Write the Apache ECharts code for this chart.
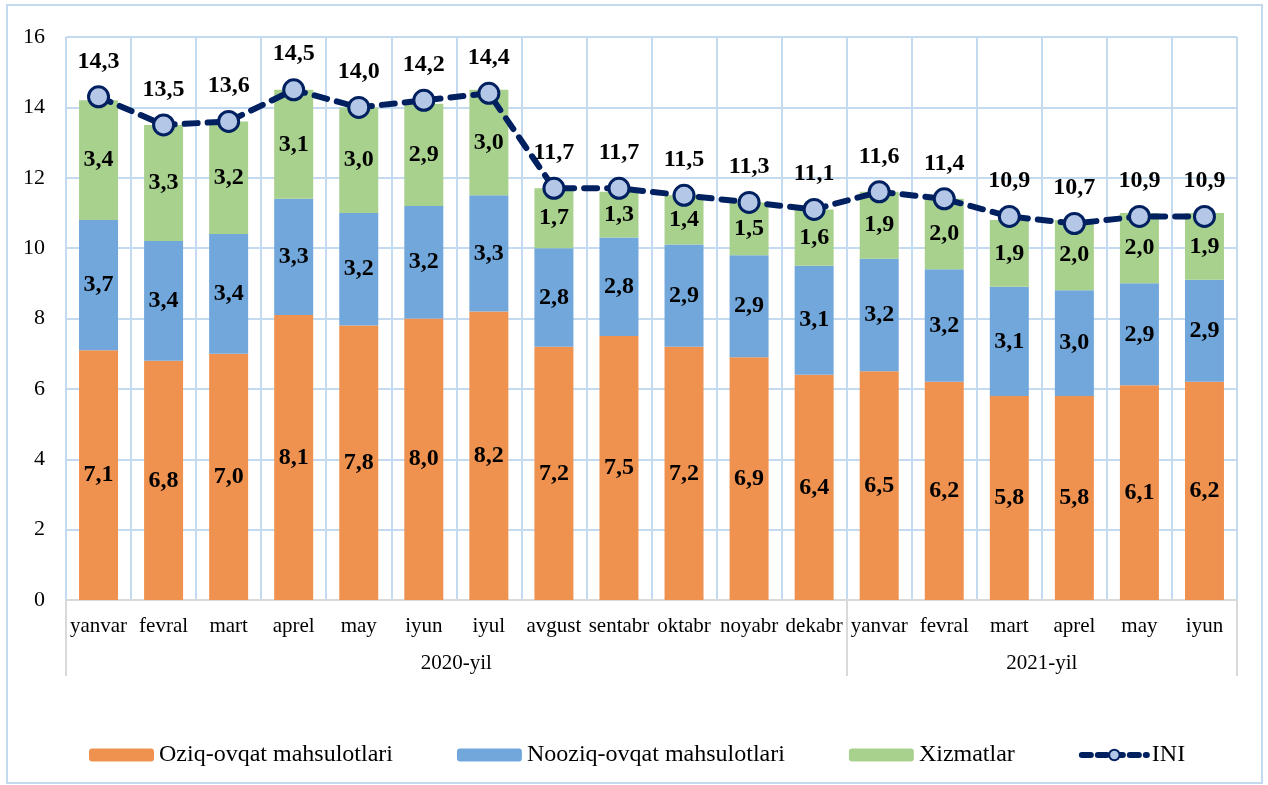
<!DOCTYPE html>
<html>
<head>
<meta charset="utf-8">
<title>INI</title>
<script src="https://cdn.jsdelivr.net/npm/echarts@6.0.0/dist/echarts.min.js"></script>
<style>
	html, body { margin: 0; padding: 0; background: #fff; }
	#chart { width: 1268px; height: 785px; }
</style>
</head>
<body>
<div id="chart"></div>
<script>
'use strict';

var months = ['yanvar', 'fevral', 'mart', 'aprel', 'may', 'iyun', 'iyul', 'avgust', 'sentabr', 'oktabr', 'noyabr', 'dekabr',
	'yanvar', 'fevral', 'mart', 'aprel', 'may', 'iyun'];
var years = ['2020-yil', '2021-yil'];
var yearCounts = [12, 6];
var food = [7.1, 6.8, 7.0, 8.1, 7.8, 8.0, 8.2, 7.2, 7.5, 7.2, 6.9, 6.4, 6.5, 6.2, 5.8, 5.8, 6.1, 6.2];
var nonFood = [3.7, 3.4, 3.4, 3.3, 3.2, 3.2, 3.3, 2.8, 2.8, 2.9, 2.9, 3.1, 3.2, 3.2, 3.1, 3.0, 2.9, 2.9];
var services = [3.4, 3.3, 3.2, 3.1, 3.0, 2.9, 3.0, 1.7, 1.3, 1.4, 1.5, 1.6, 1.9, 2.0, 1.9, 2.0, 2.0, 1.9];
var ini = [14.3, 13.5, 13.6, 14.5, 14.0, 14.2, 14.4, 11.7, 11.7, 11.5, 11.3, 11.1, 11.6, 11.4, 10.9, 10.7, 10.9, 10.9];
var yTicks = [0, 2, 4, 6, 8, 10, 12, 14, 16];

var FONT = '"Liberation Serif", "Times New Roman", serif';
var GRID_COLOR = '#c4daf0';
var AXIS_COLOR = '#d9d9d9';
var LINE_COLOR = '#002060';

// group boundaries and centres for the year axis
var yearEdges = [0];
var yearCentres = [];
yearCounts.forEach(function (n, i) {
	var start = yearEdges[i];
	yearEdges.push(start + n);
	yearCentres.push(start + n / 2);
});

function fmt(v) {
	return v.toFixed(1).replace('.', ',');
}

var barLabel = {
	show: true,
	position: 'inside',
	fontFamily: FONT,
	fontSize: 24,
	fontWeight: 'bold',
	color: '#000',
	formatter: function (p) {
		return fmt(p.value);
	}
};

var myChart = echarts.init(document.getElementById('chart'));
var option = {
	animation: false,
	textStyle: {
		fontFamily: FONT
	},
	graphic: [{
		type: 'rect',
		shape: { x: 7, y: 5, width: 1255, height: 778 },
		style: { fill: 'none', stroke: '#c4daf0', lineWidth: 2 },
		silent: true
	}],
	legend: {
		bottom: 13,
		left: 84,
		itemWidth: 65,
		itemHeight: 13,
		itemGap: 64,
		textStyle: {
			fontFamily: FONT,
			fontSize: 24,
			color: '#000'
		},
		data: [
			'Oziq-ovqat mahsulotlari',
			'Nooziq-ovqat mahsulotlari',
			'Xizmatlar',
			{ name: 'INI', lineStyle: { width: 6, type: [9, 7] } }
		]
	},
	grid: {
		left: 66,
		right: 31,
		top: 37,
		bottom: 185,
		containLabel: false
	},
	xAxis: [{
		type: 'category',
		data: months,
		axisLine: {
			lineStyle: { color: AXIS_COLOR, width: 2 }
		},
		axisTick: { show: false },
		axisLabel: {
			interval: 0,
			margin: 16,
			fontFamily: FONT,
			fontSize: 21,
			color: '#000'
		},
		splitLine: {
			show: true,
			interval: 0,
			lineStyle: { color: GRID_COLOR, width: 2 }
		}
	}, {
		type: 'value',
		position: 'bottom',
		offset: 76,
		min: 0,
		max: 18,
		axisLine: { show: false },
		splitLine: { show: false },
		axisTick: {
			show: true,
			inside: true,
			length: 76,
			customValues: yearEdges,
			lineStyle: { color: AXIS_COLOR, width: 2 }
		},
		axisLabel: {
			inside: true,
			margin: 2,
			customValues: yearCentres,
			fontFamily: FONT,
			fontSize: 21,
			color: '#000',
			formatter: function (v) {
				var i = yearCentres.indexOf(v);
				return i >= 0 ? years[i] : '';
			}
		}
	}],
	yAxis: [{
		type: 'value',
		min: yTicks[0],
		max: yTicks[yTicks.length - 1],
		interval: 2,
		axisLine: { show: false },
		axisTick: { show: false },
		axisLabel: {
			margin: 21,
			fontFamily: FONT,
			fontSize: 22,
			color: '#000'
		},
		splitLine: {
			lineStyle: { color: GRID_COLOR, width: 2 }
		}
	}],
	series: [{
		name: 'Oziq-ovqat mahsulotlari',
		type: 'bar',
		stack: 'ini',
		barWidth: 39,
		itemStyle: { color: '#f0924f' },
		label: barLabel,
		data: food
	}, {
		name: 'Nooziq-ovqat mahsulotlari',
		type: 'bar',
		stack: 'ini',
		barWidth: 39,
		itemStyle: { color: '#72a7dc' },
		label: barLabel,
		data: nonFood
	}, {
		name: 'Xizmatlar',
		type: 'bar',
		stack: 'ini',
		barWidth: 39,
		itemStyle: { color: '#a9d18e' },
		label: barLabel,
		data: services
	}, {
		name: 'INI',
		type: 'line',
		z: 5,
		symbol: 'circle',
		symbolSize: 20,
		itemStyle: {
			color: '#b4c7e7',
			borderColor: LINE_COLOR,
			borderWidth: 3
		},
		lineStyle: {
			color: LINE_COLOR,
			width: 6,
			type: [13, 10],
			cap: 'round'
		},
		label: {
			show: true,
			position: 'top',
			distance: 12,
			fontFamily: FONT,
			fontSize: 24,
			fontWeight: 'bold',
			color: '#000',
			formatter: function (p) {
				return fmt(p.value);
			}
		},
		data: ini
	}]
};
myChart.setOption(option);
window.addEventListener('resize', function () {
	myChart.resize();
});
</script>
</body>
</html>
